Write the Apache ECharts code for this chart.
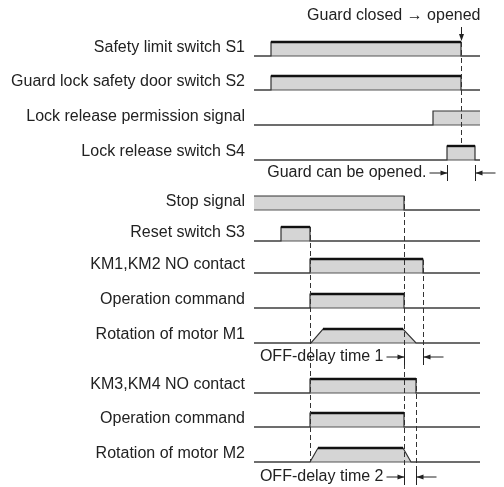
<!DOCTYPE html>
<html>
<head>
<meta charset="utf-8">
<script src="https://cdn.jsdelivr.net/npm/echarts@6/dist/echarts.min.js"></script>
<style>
  html, body { margin: 0; padding: 0; background: #fff; }
  #chart { width: 504px; height: 487px; }
</style>
</head>
<body>
<div id="chart"></div>
<script>
// signal names, top to bottom
const signals = [
  'Safety limit switch S1',
  'Guard lock safety door switch S2',
  'Lock release permission signal',
  'Lock release switch S4',
  'Stop signal',
  'Reset switch S3',
  'KM1,KM2 NO contact',
  'Operation command',
  'Rotation of motor M1',
  'KM3,KM4 NO contact',
  'Operation command',
  'Rotation of motor M2'
];

// waveforms as [time, level] points (level 0 = off, 1 = on)
const waveS1 = [[0, 0], [17, 0], [17, 1], [207, 1], [207, 0], [226, 0]];
const waveS2 = [[0, 0], [17, 0], [17, 1], [207, 1], [207, 0], [226, 0]];
const wavePermit = [[0, 0], [179, 0], [179, 1], [226, 1]];
const waveS4 = [[0, 0], [193, 0], [193, 1], [221, 1], [221, 0], [226, 0]];
const waveStop = [[0, 1], [150, 1], [150, 0], [226, 0]];
const waveS3 = [[0, 0], [27, 0], [27, 1], [56, 1], [56, 0], [226, 0]];
const waveKM12 = [[0, 0], [56, 0], [56, 1], [169, 1], [169, 0], [226, 0]];
const waveOp1 = [[0, 0], [56, 0], [56, 1], [150, 1], [150, 0], [226, 0]];
const waveM1 = [[0, 0], [57, 0], [69, 1], [149, 1], [162, 0], [226, 0]];
const waveKM34 = [[0, 0], [56, 0], [56, 1], [162, 1], [162, 0], [226, 0]];
const waveOp2 = [[0, 0], [56, 0], [56, 1], [150, 1], [150, 0], [226, 0]];
const waveM2 = [[0, 0], [56, 0], [64, 1], [149, 1], [157, 0], [226, 0]];

const waves = [waveS1, waveS2, wavePermit, waveS4, waveStop, waveS3,
  waveKM12, waveOp1, waveM1, waveKM34, waveOp2, waveM2];

// dashed guide lines: [time, yFrom, yTo]
const guides = [[207, 42, 145], [56, 227, 462], [150, 196, 484], [169, 260, 362], [162, 378, 482]];

// interval annotations: [label, tStart, tEnd, y]
const spans = [
  ['Guard can be opened.', 193, 221, 173],
  ['OFF-delay time 1', 150, 169, 357],
  ['OFF-delay time 2', 150, 162, 477]
];

// event marker above the traces: [label, time]
const events = [['Guard closed \u2192 opened', 207]];

// layout
const laneY = [56, 90, 125, 160, 210, 241, 273, 308, 343, 393, 427, 462];
const T_END = 226;
const PULSE_H = 14;
const FONT = '16px "Liberation Sans", Arial, Helvetica, sans-serif';
const INK = '#222';

const chart = echarts.init(document.getElementById('chart'));

function lvl(i, level) {
  return laneY[i] - level * PULSE_H;
}

function renderLane(params, api) {
  const i = api.value(0);
  const w = waves[i];
  const pts = w.map(p => api.coord([p[0], lvl(i, p[1])]));
  const fillPts = [api.coord([w[0][0], lvl(i, 0)])].concat(pts, [api.coord([w[w.length - 1][0], lvl(i, 0)])]);
  const children = [];
  children.push({ type: 'polygon', shape: { points: fillPts }, style: { fill: '#d5d5d5' } });
  const b0 = api.coord([0, lvl(i, 0)]);
  const b1 = api.coord([T_END, lvl(i, 0)]);
  children.push({ type: 'line', shape: { x1: b0[0], y1: b0[1], x2: b1[0], y2: b1[1] }, style: { stroke: '#555', lineWidth: 1.2 } });
  children.push({ type: 'polyline', shape: { points: pts }, style: { stroke: '#333', lineWidth: 1.2, fill: null } });
  // thick top edge for pulses fully inside the view
  for (let k = 0; k < w.length - 1; k++) {
    const a = w[k], b = w[k + 1];
    if (a[1] === 1 && b[1] === 1 && a[0] > 0 && b[0] < T_END) {
      children.push({ type: 'line', shape: { x1: pts[k][0], y1: pts[k][1], x2: pts[k + 1][0], y2: pts[k + 1][1] }, style: { stroke: '#111', lineWidth: 2.4 } });
    }
  }
  children.push({
    type: 'text',
    style: { x: b0[0] - 9, y: b0[1] - 8, text: signals[i], font: FONT, fill: INK, align: 'right', verticalAlign: 'middle' }
  });
  return { type: 'group', children: children };
}

function renderGuide(params, api) {
  const g = guides[api.value(0)];
  const a = api.coord([g[0], g[1]]);
  const b = api.coord([g[0], g[2]]);
  return { type: 'line', shape: { x1: Math.round(a[0]) + 0.5, y1: a[1], x2: Math.round(b[0]) + 0.5, y2: b[1] }, style: { stroke: '#333', lineWidth: 1, lineDash: [5, 3] } };
}

function arrowHead(x, y, dir) {
  // dir = 1 points right, -1 points left, 'down' points down
  if (dir === 'down') {
    return { type: 'polygon', shape: { points: [[x, y], [x - 2.5, y - 7], [x + 2.5, y - 7]] }, style: { fill: INK } };
  }
  return { type: 'polygon', shape: { points: [[x, y], [x - dir * 7, y - 2.5], [x - dir * 7, y + 2.5]] }, style: { fill: INK } };
}

function renderSpan(params, api) {
  const s = spans[api.value(0)];
  const a = api.coord([s[1], s[3]]);
  const b = api.coord([s[2], s[3]]);
  const y = a[1];
  const len = 18;
  const x0 = Math.round(a[0]) + 0.5, x1 = Math.round(b[0]) + 0.5;
  return {
    type: 'group',
    children: [
      { type: 'line', shape: { x1: x0, y1: y - 8, x2: x0, y2: y + 8 }, style: { stroke: INK, lineWidth: 1 } },
      { type: 'line', shape: { x1: x1, y1: y - 8, x2: x1, y2: y + 8 }, style: { stroke: INK, lineWidth: 1 } },
      { type: 'line', shape: { x1: x0 - len, y1: y, x2: x0, y2: y }, style: { stroke: INK, lineWidth: 1 } },
      { type: 'line', shape: { x1: x1, y1: y, x2: x1 + len + 2, y2: y }, style: { stroke: INK, lineWidth: 1 } },
      arrowHead(x0, y, 1),
      arrowHead(x1, y, -1),
      { type: 'text', style: { x: x0 - len - 3, y: y, text: s[0], font: FONT, fill: INK, align: 'right', verticalAlign: 'middle' } }
    ]
  };
}

function renderEvent(params, api) {
  const e = events[api.value(0)];
  const top = api.coord([e[1], 27]);
  const tip = api.coord([e[1], 41]);
  const x = Math.round(top[0]) + 0.5;
  return {
    type: 'group',
    children: [
      { type: 'line', shape: { x1: x, y1: top[1], x2: x, y2: tip[1] - 5 }, style: { stroke: INK, lineWidth: 1 } },
      arrowHead(x, tip[1], 'down'),
      { type: 'text', style: { x: x + 19, y: 16, text: e[0], font: FONT, fill: INK, align: 'right', verticalAlign: 'middle' } }
    ]
  };
}

chart.setOption({
  animation: false,
  grid: { left: 254, right: 0, top: 0, bottom: 0 },
  xAxis: { type: 'value', min: 0, max: 250, show: false },
  yAxis: { type: 'value', min: 0, max: 487, inverse: true, show: false },
  series: [
    { type: 'custom', clip: false, silent: true, renderItem: renderLane, data: signals.map((_, i) => [i, laneY[i]]) },
    { type: 'custom', clip: false, silent: true, renderItem: renderGuide, data: guides.map((g, i) => [i, g[1]]) },
    { type: 'custom', clip: false, silent: true, renderItem: renderSpan, data: spans.map((s, i) => [i, s[3]]) },
    { type: 'custom', clip: false, silent: true, renderItem: renderEvent, data: events.map((e, i) => [i, 20]) }
  ]
});
</script>
</body>
</html>
